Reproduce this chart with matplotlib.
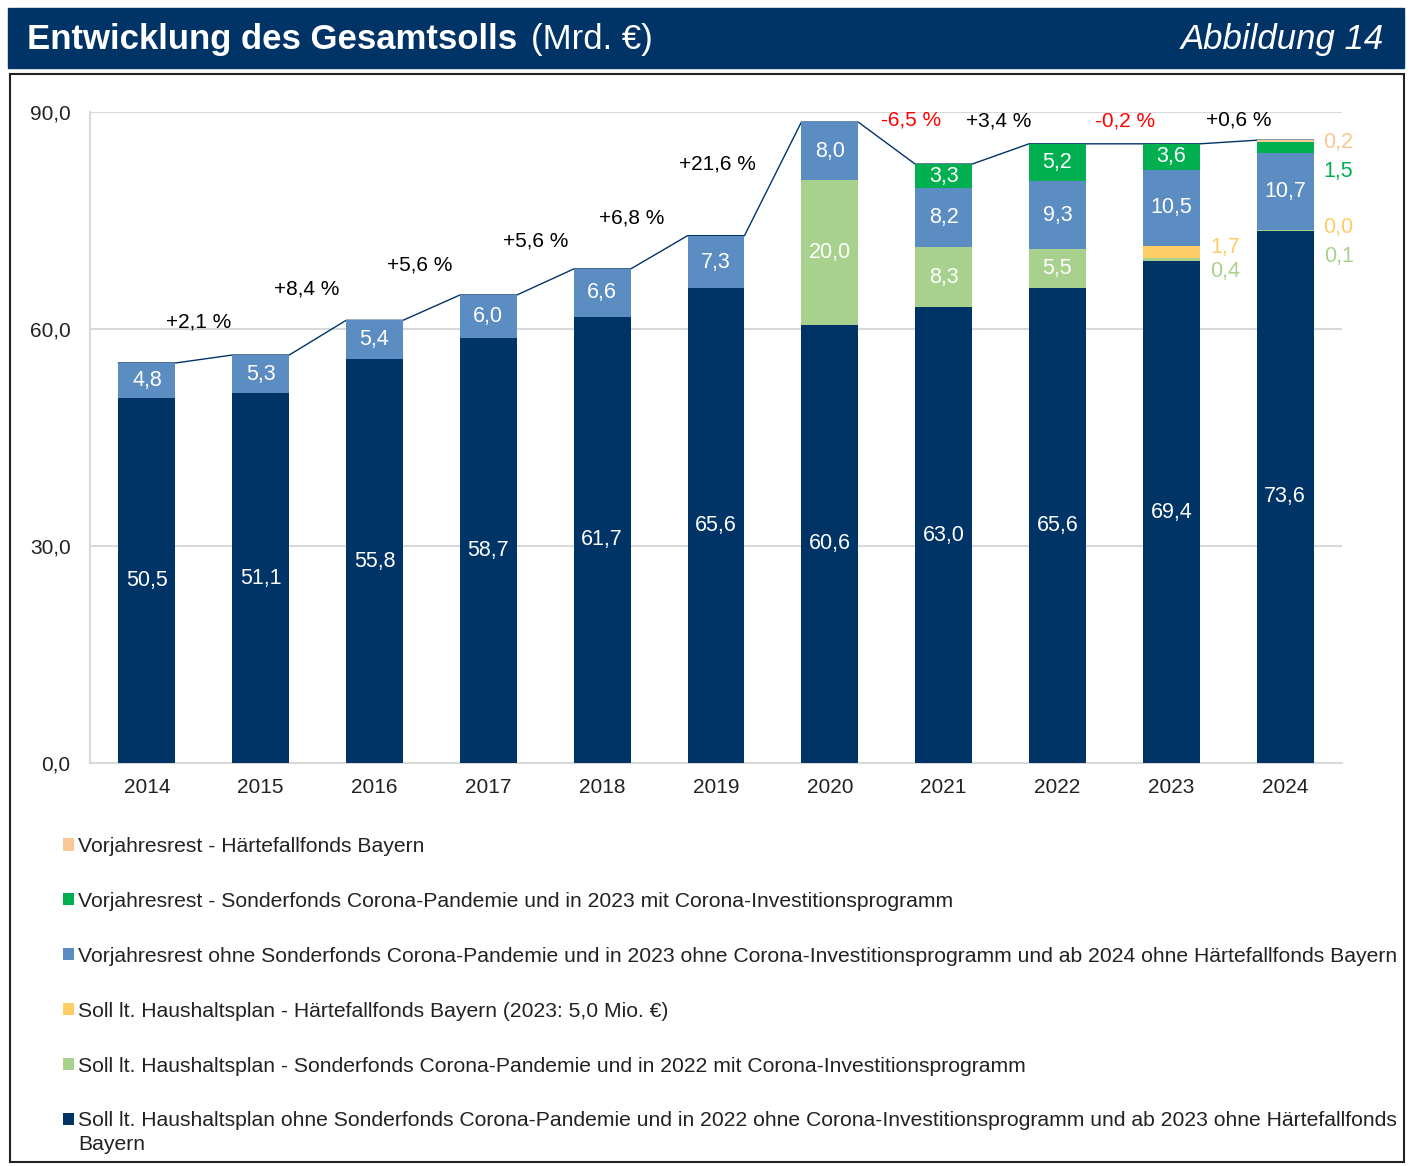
import matplotlib
matplotlib.use('Agg')
import matplotlib.pyplot as plt
from matplotlib.patches import Rectangle
import numpy as np

plt.rcParams['font.family'] = ['Liberation Sans', 'DejaVu Sans']

years = ['2014', '2015', '2016', '2017', '2018', '2019', '2020', '2021', '2022', '2023', '2024']
soll_base = [50.5, 51.1, 55.8, 58.7, 61.7, 65.6, 60.6, 63.0, 65.6, 69.4, 73.6]
soll_corona = [0, 0, 0, 0, 0, 0, 20.0, 8.3, 5.5, 0.4, 0.1]
soll_haerte = [0, 0, 0, 0, 0, 0, 0, 0, 0, 1.7, 0.0]
vj_rest = [4.8, 5.3, 5.4, 6.0, 6.6, 7.3, 8.0, 8.2, 9.3, 10.5, 10.7]
vj_corona = [0, 0, 0, 0, 0, 0, 0, 3.3, 5.2, 3.6, 1.5]
vj_haerte = [0, 0, 0, 0, 0, 0, 0, 0, 0, 0, 0.2]
growth = ['+2,1 %', '+8,4 %', '+5,6 %', '+5,6 %', '+6,8 %', '+21,6 %',
          '-6,5 %', '+3,4 %', '-0,2 %', '+0,6 %']

legend_labels = [
    'Soll lt. Haushaltsplan ohne Sonderfonds Corona-Pandemie und in 2022 ohne Corona-Investitionsprogramm und ab 2023 ohne Härtefallfonds',
    'Soll lt. Haushaltsplan - Sonderfonds Corona-Pandemie und in 2022 mit Corona-Investitionsprogramm',
    'Soll lt. Haushaltsplan - Härtefallfonds Bayern (2023: 5,0 Mio. €)',
    'Vorjahresrest ohne Sonderfonds Corona-Pandemie und in 2023 ohne Corona-Investitionsprogramm und ab 2024 ohne Härtefallfonds Bayern',
    'Vorjahresrest - Sonderfonds Corona-Pandemie und in 2023 mit Corona-Investitionsprogramm',
    'Vorjahresrest - Härtefallfonds Bayern',
]

navy = '#003366'
colors = [navy, '#A9D18E', '#FFCC66', '#5B8CC2', '#00B050', '#F9C894']
label_colors = ['white', 'white', '#FFCC66', 'white', 'white', '#F9C894']
outside_colors = [None, '#A9D18E', '#FFCC66', None, '#00B050', '#F9C894']

# layout for labels placed beside the bars (series index, year index) -> y
outside_y = {(2, 9): 71.3, (1, 9): 67.9,
             (5, 10): 85.85, (4, 10): 81.8, (2, 10): 74.0, (1, 10): 70.0}
growth_pos = [(0.45, 61.0), (1.40, 65.5), (2.40, 68.9), (3.42, 72.2), (4.26, 75.3),
              (5.01, 82.8), (6.71, 88.9), (7.48, 88.8), (8.59, 88.8), (9.59, 88.9)]

fig = plt.figure(figsize=(14.14, 11.66), dpi=100)
fig.patch.set_facecolor('white')

# title bar
fig.patches.append(Rectangle((8 / 1414, 1 - 68 / 1166), 1396 / 1414, 60 / 1166,
                             transform=fig.transFigure, color=navy, zorder=0))
t = fig.text(27 / 1414, 1 - 39 / 1166, 'Entwicklung des Gesamtsolls', color='white',
             fontsize=25, fontweight='bold', va='center', ha='left')
fig.canvas.draw()
bb = t.get_window_extent()
fig.text(bb.x1 / 1414 + 0.01, 1 - 39 / 1166, '(Mrd. €)', color='white',
         fontsize=25, va='center', ha='left')
fig.text(1384 / 1414, 1 - 39 / 1166, 'Abbildung 14', color='white', fontsize=25,
         fontstyle='italic', va='center', ha='right')

# frame around chart
fig.patches.append(Rectangle((10 / 1414, 1 - 1162 / 1166), 1394 / 1414, 1088 / 1166,
                             transform=fig.transFigure, fill=False, edgecolor='#222222',
                             linewidth=1.5, zorder=0))

ax = fig.add_axes([90 / 1414, 1 - 763 / 1166, 1252 / 1414, 651 / 1166])
x = np.arange(len(years))
series = [soll_base, soll_corona, soll_haerte, vj_rest, vj_corona, vj_haerte]
bottom = np.zeros(len(years))
containers = []
for k, (vals, col) in enumerate(zip(series, colors)):
    vals = np.array(vals, dtype=float)
    bc = ax.bar(x, vals, 0.5, bottom=bottom, color=col, zorder=3, label=legend_labels[k])
    containers.append(bc)
    for i, v in enumerate(vals):
        if (k, i) in outside_y:
            ax.text(i + 0.47, outside_y[(k, i)], f'{v:.1f}'.replace('.', ','),
                    color=outside_colors[k], fontsize=15.5, ha='center', va='center')
        elif v >= 2.5:
            ax.text(i, bottom[i] + v / 2, f'{v:.1f}'.replace('.', ','),
                    color=label_colors[k], fontsize=15.5, ha='center', va='center', zorder=4)
    bottom += vals

# line connecting bar tops
lx, ly = [], []
for i, tot in enumerate(bottom):
    lx += [i - 0.25, i + 0.25]
    ly += [tot, tot]
ax.plot(lx, ly, color=navy, linewidth=1, zorder=2)

for g, (gx, gy) in zip(growth, growth_pos):
    ax.text(gx, gy, g, color='#FF0000' if g.startswith('-') else 'black',
            fontsize=15, ha='center', va='center')

ax.set_xlim(-0.5, 10.5)
ax.set_ylim(0, 90)
ax.set_yticks([0, 30, 60, 90])
ax.set_yticklabels(['0,0', '30,0', '60,0', '90,0'])
ax.set_xticks(x)
ax.set_xticklabels(years)
ax.tick_params(axis='both', length=0, labelsize=15, colors='#222222')
ax.tick_params(axis='y', pad=14)
ax.tick_params(axis='x', pad=11)
ax.grid(axis='y', color='#D9D9D9', linewidth=1.5, zorder=0)
for s in ['top', 'right']:
    ax.spines[s].set_visible(False)
ax.spines['left'].set_color('#D9D9D9')
ax.spines['bottom'].set_color('#D9D9D9')
ax.spines['left'].set_linewidth(1.5)
ax.spines['bottom'].set_linewidth(1.5)

handles = containers[::-1]
leg = fig.legend(handles, legend_labels[::-1], loc='upper left',
                 bbox_to_anchor=(63 / 1414, 1 - 837 / 1166), frameon=False, fontsize=15.2,
                 handlelength=0.5, handleheight=0.5, handletextpad=0.2, labelspacing=1.7,
                 borderaxespad=0, borderpad=0)
# wrapped second line of the last legend entry
fig.canvas.draw()
lt = leg.get_texts()[-1].get_window_extent()
fig.text(lt.x0 / 1414, (lt.y0 - 24) / 1166, 'Bayern', fontsize=15.2, color='#222222',
         ha='left', va='bottom')
for txt in leg.get_texts():
    txt.set_color('#222222')

fig.savefig('out.png', dpi=100, facecolor='white')
